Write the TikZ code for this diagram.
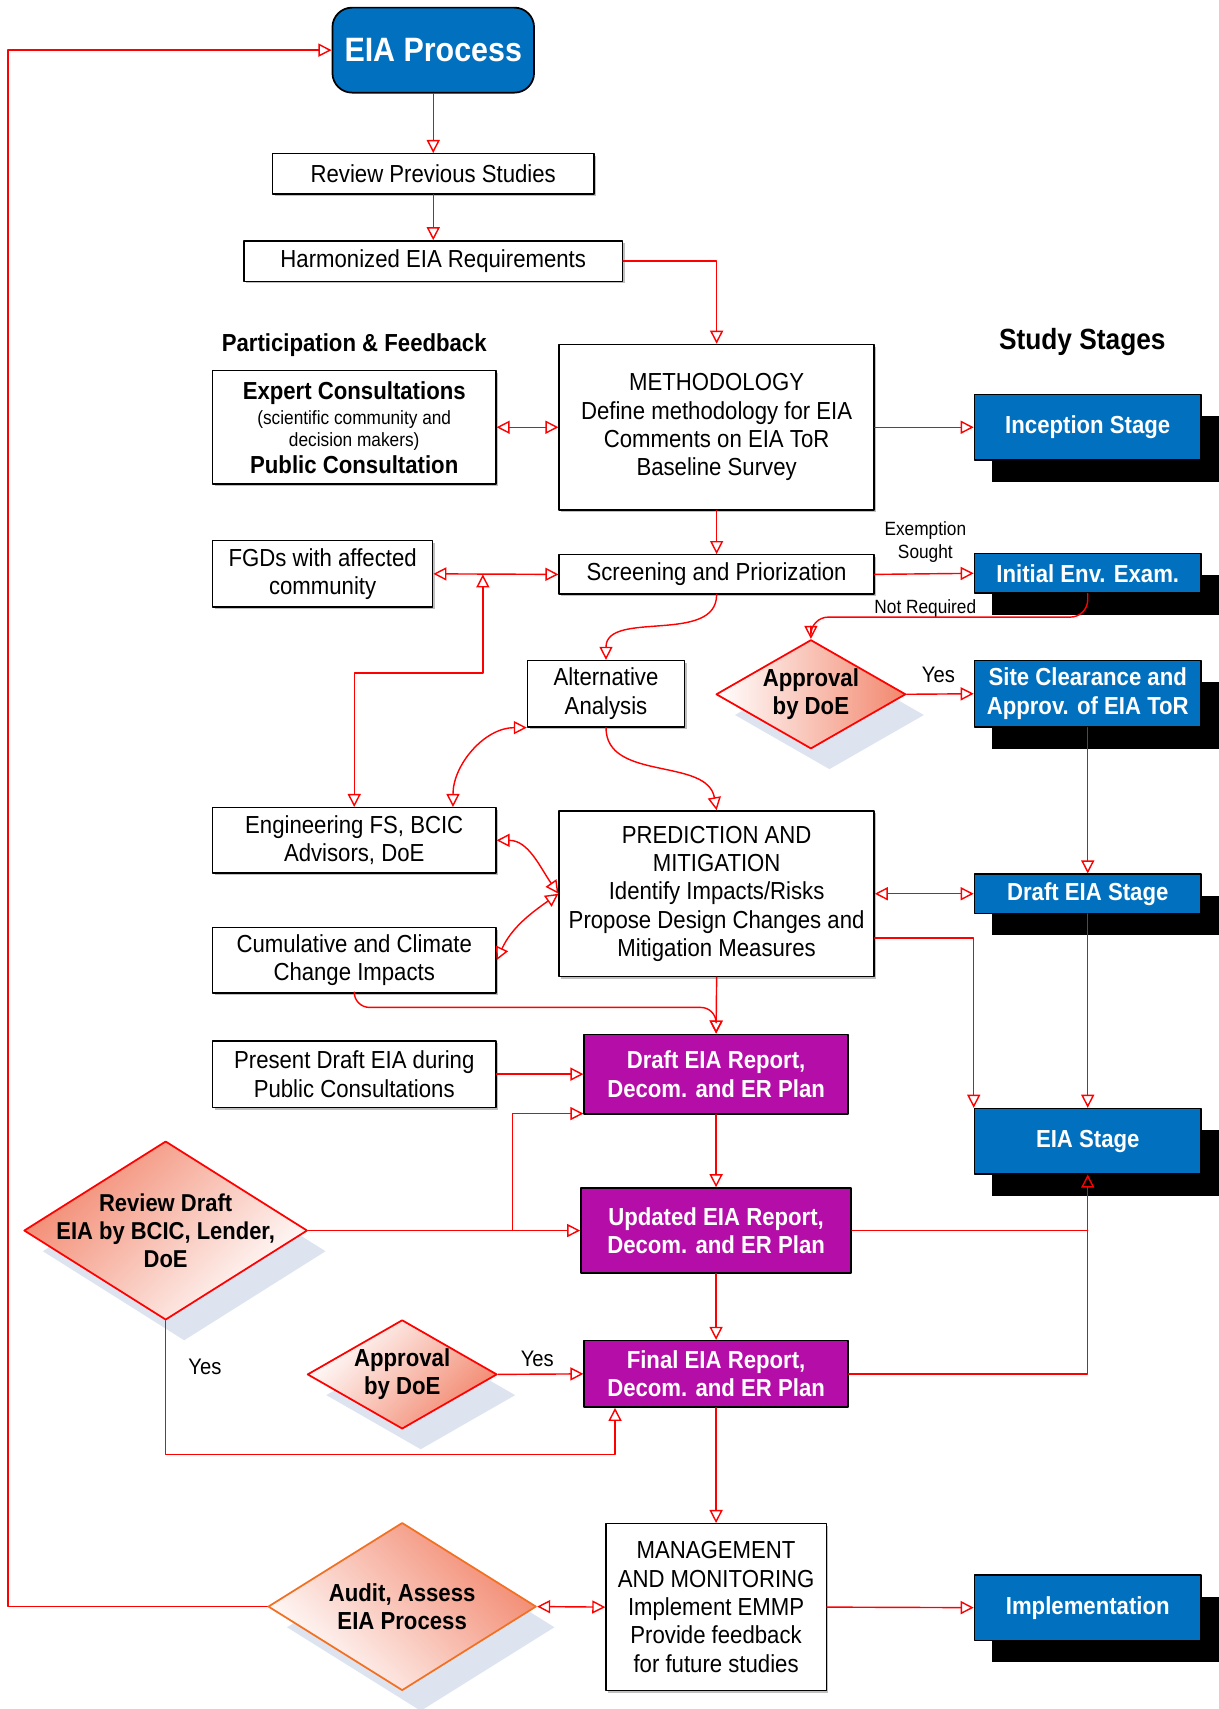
\documentclass[tikz,border=0pt]{standalone}
\usepackage{fontspec}
\setmainfont[FakeStretch=0.9]{Liberation Sans}
\usepackage{tikz}
\usetikzlibrary{calc}
\usetikzlibrary{arrows.meta}
\usetikzlibrary{shapes.geometric}
\usetikzlibrary{shadows}
\definecolor{eiablue}{rgb}{0.,0.44,0.75}
\definecolor{eiapurple}{rgb}{0.71,0.05,0.66}
\definecolor{eiared}{rgb}{1.,0.,0.}
\definecolor{eiasalmon}{rgb}{0.95,0.53,0.43}
\definecolor{eiaorange}{rgb}{0.95,0.44,0.13}
\definecolor{eiashade}{rgb}{0.87,0.89,0.94}
\newcommand{\basefont}{\fontsize{11.3}{13}\selectfont}
\newcommand{\smallfont}{\fontsize{8.8}{10.5}\selectfont}
\newcommand{\yesfont}{\fontsize{10.3}{12}\selectfont}
\tikzstyle{every node}=[font=\basefont]
\tikzset{
  box/.style={draw=black, fill=white, line width=0.6pt, inner sep=0pt, align=center,
    drop shadow={shadow xshift=1pt, shadow yshift=-1pt, fill=black!25, opacity=1}},
  stage/.style={draw=black, fill=eiablue, text=white, font=\basefont\bfseries, line width=0.6pt,
    inner sep=0pt, align=center, minimum width=104pt,
    drop shadow={shadow xshift=8pt, shadow yshift=-10pt, fill=black, opacity=1}},
  report/.style={draw=black, fill=eiapurple, text=white, font=\basefont\bfseries, line width=0.7pt,
    inner sep=0pt, align=center, minimum width=121pt},
  decision/.style={diamond, draw=eiared, line width=0.8pt, inner sep=0pt,
    drop shadow={shadow xshift=8.5pt, shadow yshift=-9.5pt, fill=eiashade, opacity=1}},
  dtext/.style={font=\basefont\bfseries, align=center, inner sep=0pt},
  tag/.style={font=\smallfont, align=center, inner sep=1pt},
  conn/.style={draw=eiared, line width=0.65pt},
  arr/.style={conn, ->},
}
\begin{document}
\begin{tikzpicture}[line cap=round,line join=round,>={Triangle[open,length=6pt,width=6pt]},
                    x=0.5pt,y=-0.5pt]
\useasboundingbox (0,0) rectangle (1118,1568);
% left column and centre chain
\node[draw=black, fill=eiablue, rounded corners=9pt, text=white, line width=0.8pt,
      font=\fontsize{15.5}{18}\selectfont\bfseries, minimum width=92.5pt, minimum height=39pt] (eia) at (397.5,46) {EIA Process};
\node[box, minimum width=147.5pt, minimum height=18.5pt] (review) at (397.5,159.5) {Review Previous Studies};
\node[box, minimum width=173.5pt, minimum height=18.5pt] (harm) at (397.5,239.5) {Harmonized EIA Requirements};
\node[font=\basefont\bfseries] (part) at (325,317) {Participation \& Feedback};
\node[font=\fontsize{13.4}{16}\selectfont\bfseries] (studies) at (993,314) {Study Stages};
\node[box, minimum width=130pt, minimum height=52pt] (expert) at (325,392)
     {\textbf{Expert Consultations}\\[-1.5pt] {\smallfont(scientific community and}\\[-2.5pt]
      {\smallfont decision makers)}\\[-1pt] \textbf{Public Consultation}};
\node[box, minimum width=144.5pt, minimum height=76pt] (meth) at (657.5,392)
     {METHODOLOGY\\Define methodology for EIA\\Comments on EIA ToR\\Baseline Survey};
\node[box, minimum width=144.5pt, minimum height=18pt] (screen) at (657.5,527) {Screening and Priorization};
\node[box, minimum width=101pt, minimum height=30.5pt] (fgd) at (296,526.5) {FGDs with affected\\community};
\node[box, minimum width=72pt, minimum height=30.5pt] (alt) at (556,636.5) {Alternative\\Analysis};
\node[box, minimum width=130pt, minimum height=30pt] (eng) at (325,771) {Engineering FS, BCIC\\Advisors, DoE};
\node[box, minimum width=144.5pt, minimum height=76pt] (pred) at (657.5,820)
     {PREDICTION AND\\MITIGATION\\Identify Impacts/Risks\\Propose Design Changes and\\Mitigation Measures};
\node[box, minimum width=130pt, minimum height=30pt] (cum) at (325,881) {Cumulative and Climate\\Change Impacts};
\node[box, minimum width=130pt, minimum height=30.5pt] (present) at (325,985.5) {Present Draft EIA during\\Public Consultations};
\node[report, minimum height=36.5pt] (draft) at (657,985.5) {Draft EIA Report,\\Decom. and ER Plan};
\node[report, minimum width=124pt, minimum height=39pt] (upd) at (657,1129) {Updated EIA Report,\\Decom. and ER Plan};
\node[report, minimum height=30.5pt] (final) at (657,1260.5) {Final EIA Report,\\Decom. and ER Plan};
\node[box, minimum width=101pt, minimum height=76.5pt] (mgmt) at (657,1474.5)
     {MANAGEMENT\\AND MONITORING\\Implement EMMP\\Provide feedback\\for future studies};
% decisions
\node[decision, minimum width=87pt, minimum height=50pt, left color=white, right color=eiasalmon] (appr1) at (744,637) {};
\node[dtext] (appr1t) at (appr1) {Approval\\by DoE};
\node[decision, minimum width=130pt, minimum height=82pt, top color=eiasalmon, bottom color=white, shading angle=45] (rev) at (152,1129) {};
\node[dtext, font=\fontsize{11.2}{12.75}\selectfont\bfseries] (revt) at (rev) {Review Draft\\EIA by BCIC, Lender,\\DoE};
\node[decision, minimum width=87pt, minimum height=50pt, top color=eiasalmon, bottom color=white, shading angle=225] (appr2) at (369,1261) {};
\node[dtext] (appr2t) at (appr2) {Approval\\by DoE};
\node[decision, draw=eiaorange, minimum width=123pt, minimum height=77pt, top color=eiasalmon, bottom color=white, shading angle=-45] (audit) at (369,1474) {};
\node[dtext] (auditt) at (audit) {Audit, Assess\\EIA Process};
% study stages
\node[stage, minimum height=30pt] (incep) at (998,392) {Inception Stage};
\node[stage, minimum height=18pt] (iee) at (998,526) {Initial Env. Exam.};
\node[stage, minimum height=30.5pt] (site) at (998,636.5) {Site Clearance and\\Approv. of EIA ToR};
\node[stage, minimum height=18pt] (dstage) at (998,820) {Draft EIA Stage};
\node[stage, minimum height=30pt] (eiastage) at (998,1047) {EIA Stage};
\node[stage, minimum height=30pt] (impl) at (998,1475) {Implementation};
% small labels
\node[tag] (exempt) at (849,497) {Exemption\\Sought};
\node[tag] (notreq) at (849,558) {Not Required};
\node[font=\yesfont] (yes1) at (861,619) {Yes};
\node[font=\yesfont] (yes2) at (188,1254) {Yes};
\node[font=\yesfont] (yes3) at (493,1247) {Yes};
% connectors
\coordinate (fgdsplit) at (443,527);
\coordinate (revsplit) at (470,1129);
\draw[arr] (audit.west) -- ++(-238,0) |- (eia.west);
\draw[arr] (eia.south) -- (review.north);
\draw[arr] (review.south) -- (harm.north);
\draw[arr] (harm.east) -| (meth.north);
\draw[arr,<->] (expert.east) -- (meth.west);
\draw[arr] (meth.east) -- (incep.west);
\draw[arr] (meth.south) -- (screen.north);
\draw[arr] (screen.east) -- (iee.west);
\draw[arr,<->] (fgd.east) -- (screen.west);
\draw[arr,<->] (fgdsplit) |- ($(eng.north)+(0,-123)$) -- (eng.north);
\draw[arr] (screen.south) to[out=-90,in=90] (alt.north);
\draw[arr] (alt.south) to[out=-90,in=100] (pred.north);
\draw[arr,<->] (alt.south west) to[out=180,in=90] ($(eng.north east)+(-40,0)$);
\draw[arr,<->] (eng.east) to[out=0,in=125] (pred.west);
\draw[arr,<->] (cum.east) to[out=65,in=215] (pred.west);
\draw[arr, rounded corners=7pt] (cum.south) |- ($(draft.north)+(0,-24)$) -- (draft.north);
\draw[arr] (pred.south) -- (draft.north);
\draw[arr,<->] (pred.east) -- (dstage.west);
\draw[arr] ($(pred.south east)+(0,-36)$) -| (eiastage.north west);
\draw[arr, rounded corners=8pt] (iee.south) |- ($(appr1.north)+(0,-20)$) -- (appr1.north);
\draw[arr] (appr1.east) -- (site.west);
\draw[arr] (site.south) -- (dstage.north);
\draw[arr] (dstage.south) -- (eiastage.north);
\draw[arr] (present.east) -- (draft.west);
\draw[arr] (rev.east) -- (upd.west);
\draw[arr] (revsplit) |- ($(draft.south west)+(0,-1)$);
\draw[arr] (draft.south) -- (upd.north);
\draw[arr] (upd.south) -- (final.north);
\draw[conn] (upd.east) -- (upd.east -| eiastage.south);
\draw[arr] (final.east) -| (eiastage.south);
\draw[arr] (rev.south) |- ($(final.south west)+(29,43)$) -- ($(final.south west)+(29,0)$);
\draw[arr] (appr2.east) -- (final.west);
\draw[arr] (final.south) -- (mgmt.north);
\draw[arr,<->] (audit.east) -- (mgmt.west);
\draw[arr] (mgmt.east) -- (impl.west);
\end{tikzpicture}
\end{document}
